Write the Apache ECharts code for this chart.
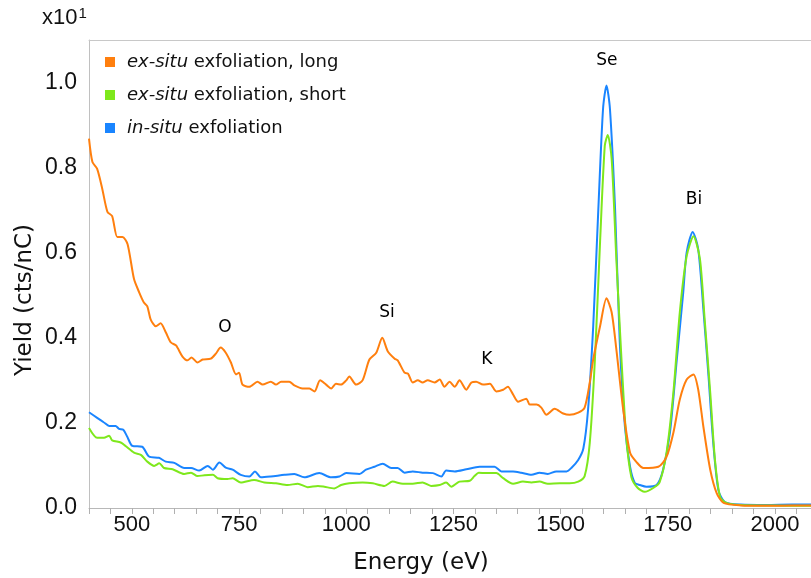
<!DOCTYPE html>
<html>
<head>
<meta charset="utf-8" />
<title>Yield vs Energy</title>
<script src="https://cdn.jsdelivr.net/npm/echarts@6/dist/echarts.min.js"></script>
<style>
  body { margin: 0; background: #fff; }
  #main { width: 811px; height: 578px; }
</style>
</head>
<body>
<div id="main"></div>
<script>
// energy (eV), yield (x10 cts/nC)
var exLong = [
  [400,0.868],[408,0.813],[419,0.797],[431,0.75],[443,0.696],[454,0.686],[466,0.637],[478,0.637],[490,0.62],
  [505,0.538],[517,0.507],[528,0.483],[536,0.474],[544,0.443],[556,0.427],[567,0.434],[579,0.413],[591,0.389],
  [603,0.382],[618,0.356],[630,0.347],[639,0.354],[653,0.342],[665,0.349],[684,0.351],[696,0.363],[707,0.377],
  [719,0.365],[731,0.342],[743,0.314],[750,0.318],[758,0.29],[774,0.285],[793,0.297],[805,0.29],[824,0.297],
  [836,0.29],[848,0.297],[867,0.297],[879,0.288],[898,0.281],[914,0.281],[926,0.274],[939,0.3],[953,0.29],
  [965,0.281],[976,0.292],[988,0.29],[1000,0.3],[1007,0.309],[1023,0.29],[1038,0.3],[1054,0.349],[1070,0.365],
  [1084,0.4],[1097,0.368],[1113,0.351],[1120,0.347],[1136,0.318],[1144,0.316],[1155,0.295],[1167,0.3],
  [1178,0.295],[1190,0.3],[1206,0.295],[1218,0.302],[1229,0.285],[1241,0.297],[1253,0.285],[1264,0.3],
  [1280,0.278],[1292,0.295],[1303,0.297],[1319,0.29],[1335,0.292],[1350,0.274],[1366,0.278],[1377,0.285],
  [1389,0.267],[1401,0.25],[1420,0.257],[1428,0.243],[1444,0.243],[1455,0.236],[1467,0.219],[1486,0.233],
  [1506,0.222],[1521,0.219],[1541,0.224],[1556,0.236],[1568,0.295],[1576,0.349],[1592,0.427],[1607,0.493],
  [1619,0.46],[1630,0.373],[1646,0.231],[1662,0.13],[1677,0.108],[1693,0.094],[1728,0.097],[1747,0.12],
  [1763,0.177],[1778,0.255],[1794,0.302],[1810,0.314],[1821,0.278],[1833,0.191],[1849,0.09],[1864,0.035],
  [1880,0.012],[1920,0.006],[1980,0.005],[2040,0.006],[2084,0.006]
];
var exShort = [
  [400,0.188],[419,0.165],[435,0.165],[447,0.17],[454,0.159],[474,0.154],[486,0.145],[505,0.13],[521,0.125],
  [536,0.109],[552,0.099],[564,0.105],[575,0.094],[595,0.091],[622,0.08],[638,0.083],[653,0.075],[669,0.077],
  [689,0.078],[700,0.07],[723,0.068],[735,0.07],[754,0.06],[785,0.066],[809,0.06],[836,0.058],[863,0.054],
  [887,0.057],[910,0.049],[934,0.052],[949,0.05],[972,0.046],[988,0.054],[1007,0.058],[1038,0.06],[1062,0.058],
  [1089,0.052],[1108,0.062],[1132,0.057],[1155,0.057],[1178,0.06],[1198,0.052],[1218,0.054],[1233,0.06],
  [1245,0.05],[1264,0.062],[1288,0.064],[1299,0.075],[1309,0.083],[1327,0.082],[1350,0.082],[1366,0.07],
  [1389,0.057],[1412,0.062],[1432,0.06],[1451,0.062],[1470,0.057],[1498,0.058],[1521,0.058],[1541,0.062],
  [1556,0.075],[1568,0.153],[1580,0.349],[1592,0.625],[1603,0.851],[1610,0.877],[1619,0.821],[1630,0.585],
  [1642,0.349],[1653,0.167],[1665,0.073],[1680,0.047],[1696,0.038],[1716,0.047],[1731,0.061],[1747,0.13],
  [1763,0.271],[1778,0.46],[1794,0.592],[1810,0.639],[1825,0.585],[1836,0.443],[1849,0.271],[1860,0.113],
  [1872,0.026],[1887,0.012],[1920,0.007],[1980,0.006],[2040,0.005],[2084,0.005]
];
var inSitu = [
  [400,0.225],[419,0.212],[435,0.201],[447,0.193],[462,0.193],[470,0.186],[480,0.184],[489,0.168],[501,0.146],
  [524,0.144],[540,0.121],[563,0.118],[579,0.109],[599,0.106],[622,0.094],[638,0.094],[657,0.088],[677,0.099],
  [689,0.09],[704,0.107],[719,0.095],[735,0.09],[754,0.078],[774,0.074],[787,0.086],[801,0.072],[824,0.074],
  [856,0.078],[879,0.08],[902,0.072],[937,0.082],[965,0.072],[984,0.074],[1000,0.082],[1031,0.08],[1046,0.09],
  [1066,0.097],[1085,0.104],[1105,0.094],[1120,0.094],[1136,0.083],[1155,0.086],[1178,0.083],[1202,0.082],
  [1222,0.074],[1233,0.088],[1253,0.086],[1280,0.091],[1311,0.097],[1327,0.097],[1346,0.097],[1362,0.086],
  [1389,0.086],[1408,0.083],[1432,0.078],[1451,0.083],[1470,0.08],[1490,0.086],[1514,0.086],[1525,0.094],
  [1541,0.113],[1553,0.14],[1564,0.231],[1576,0.427],[1588,0.703],[1599,0.939],[1607,0.993],[1615,0.939],
  [1627,0.703],[1638,0.389],[1650,0.191],[1662,0.097],[1673,0.059],[1685,0.054],[1700,0.05],[1724,0.054],
  [1739,0.09],[1755,0.177],[1771,0.349],[1786,0.507],[1794,0.601],[1808,0.649],[1821,0.608],[1833,0.467],
  [1845,0.309],[1856,0.153],[1868,0.042],[1883,0.014],[1920,0.008],[1980,0.007],[2040,0.008],[2084,0.008]
];
var seriesNames = ['ex-situ exfoliation, long', 'ex-situ exfoliation, short', 'in-situ exfoliation'];
// peak annotations: element, energy, yield
var peaks = [
  ['O', 717, 0.425], ['Si', 1095, 0.46], ['K', 1328, 0.349], ['Se', 1608, 1.052], ['Bi', 1811, 0.726]
];
var yTicks = [0, 0.2, 0.4, 0.6, 0.8, 1.0];

var chart = echarts.init(document.getElementById('main'));
var labelFont = 'Liberation Sans';
var textFont = 'DejaVu Sans';

var option = {
  animation: false,
  grid: { left: 89, top: 40, right: 0, bottom: 70, outerBoundsMode: 'none', containLabel: false },
  legend: {
    left: 105, top: 52, padding: 0, orient: 'vertical', itemGap: 13, itemWidth: 10, itemHeight: 10,
    icon: 'rect',
    data: seriesNames,
    formatter: function (n) { return n.replace(/^(ex-situ|in-situ)/, '{i|$1}'); },
    textStyle: {
      fontFamily: textFont, fontSize: 18, color: '#111', lineHeight: 20, padding: [0, 0, 0, 7],
      rich: { i: { fontFamily: textFont, fontSize: 18, fontStyle: 'italic', color: '#111', lineHeight: 20 } }
    }
  },
  xAxis: [{
    type: 'value', min: 400, max: 2084, interval: 50,
    axisLine: { lineStyle: { color: '#b8b8b8', width: 1 } },
    axisTick: { length: 6, lineStyle: { color: '#b0b0b0' } },
    splitLine: { show: false },
    axisLabel: {
      margin: 6, fontFamily: labelFont, fontSize: 22, color: '#111',
      formatter: function (v) { return v % 250 === 0 ? String(v) : ''; }
    }
  }, {
    // top frame line
    type: 'value', position: 'top', min: 400, max: 2084,
    axisLine: { show: true, lineStyle: { color: '#c8c8c8', width: 1 } },
    axisTick: { show: false }, axisLabel: { show: false }, splitLine: { show: false }
  }],
  yAxis: {
    type: 'value', min: 0, max: 1.1, interval: 0.2,
    axisLine: { show: true, lineStyle: { color: '#c0c0c0', width: 1 } },
    axisTick: { show: false },
    splitLine: { show: false },
    axisLabel: {
      margin: 12, fontFamily: labelFont, fontSize: 23, color: '#111',
      formatter: function (v) {
        return yTicks.some(function (t) { return Math.abs(t - v) < 1e-6; }) ? v.toFixed(1) : '';
      }
    }
  },
  graphic: [
    {
      type: 'text', left: 42, top: 6,
      style: {
        text: '{a|x10}{b|1}',
        rich: {
          a: { fontFamily: labelFont, fontSize: 22, fill: '#111' },
          b: { fontFamily: labelFont, fontSize: 15, fill: '#111', verticalAlign: 'top', padding: [0, 0, 8, 1] }
        }
      }
    },
    {
      type: 'text', x: 421, y: 563,
      style: { text: 'Energy (eV)', fontFamily: textFont, fontSize: 23, fill: '#111', align: 'center', verticalAlign: 'middle' }
    },
    {
      type: 'text', x: 25, y: 300, rotation: Math.PI / 2,
      style: { text: 'Yield (cts/nC)', fontFamily: textFont, fontSize: 23, fill: '#111', align: 'center', verticalAlign: 'middle' }
    }
  ],
  series: [
    {
      name: seriesNames[2], type: 'line', data: inSitu, showSymbol: false, smooth: 0.25,
      lineStyle: { width: 2, color: '#1a85ff' }, itemStyle: { color: '#1a85ff' }
    },
    {
      name: seriesNames[1], type: 'line', data: exShort, showSymbol: false, smooth: 0.25,
      lineStyle: { width: 2, color: '#7ee81c' }, itemStyle: { color: '#7ee81c' }
    },
    {
      name: seriesNames[0], type: 'line', data: exLong, showSymbol: false, smooth: 0.25,
      lineStyle: { width: 2, color: '#ff7f0e' }, itemStyle: { color: '#ff7f0e' }
    },
    {
      type: 'scatter', silent: true, symbolSize: 1,
      itemStyle: { color: 'transparent', opacity: 1 },
      data: peaks.map(function (p) { return { name: p[0], value: [p[1], p[2]] }; }),
      label: {
        show: true, position: 'inside', formatter: '{b}', opacity: 1, textBorderWidth: 0,
        fontFamily: textFont, fontSize: 17, color: '#000'
      }
    }
  ]
};
chart.setOption(option);
</script>
</body>
</html>
